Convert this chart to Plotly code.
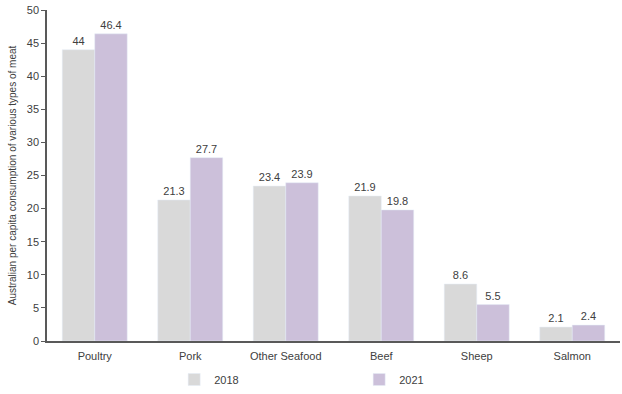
import plotly.graph_objects as go

categories = ["Poultry", "Pork", "Other Seafood", "Beef", "Sheep", "Salmon"]
values_2018 = [44, 21.3, 23.4, 21.9, 8.6, 2.1]
values_2021 = [46.4, 27.7, 23.9, 19.8, 5.5, 2.4]
y_ticks = [0, 5, 10, 15, 20, 25, 30, 35, 40, 45, 50]

FONT = "Liberation Sans Narrow, Arial Narrow, Liberation Sans, Arial, sans-serif"
TXT = "#404040"

fig = go.Figure()
fig.add_trace(go.Bar(name="2018", x=categories, y=values_2018, marker_color="#D9D9D9",
                     text=[f"{v:g}" for v in values_2018], textposition="outside",
                     textfont=dict(size=11, color=TXT, family=FONT), cliponaxis=False))
fig.add_trace(go.Bar(name="2021", x=categories, y=values_2021, marker_color="#CCC0DA",
                     text=[f"{v:g}" for v in values_2021], textposition="outside",
                     textfont=dict(size=11, color=TXT, family=FONT), cliponaxis=False))

fig.update_layout(
    width=622, height=394,
    margin=dict(l=47, r=2, t=10, b=53),
    plot_bgcolor="white", paper_bgcolor="white",
    barmode="group", bargap=0.32, bargroupgap=0,
    font=dict(family=FONT, size=11, color=TXT),
    showlegend=True,
    legend=dict(orientation="h", xref="container", yref="container",
                x=0.28, xanchor="left", y=0.0, yanchor="bottom",
                entrywidth=140, entrywidthmode="pixels", itemwidth=30,
                font=dict(size=11, color=TXT, family=FONT)),
)
fig.update_xaxes(showline=True, linecolor="#595959", linewidth=1.5,
                 ticks="outside", ticklen=4, tickcolor="rgba(0,0,0,0)",
                 tickfont=dict(size=11, color=TXT), showgrid=False)
fig.update_yaxes(range=[0, 50], tickvals=y_ticks, showline=True, linecolor="#595959",
                 linewidth=1.5, ticks="outside", ticklen=4, tickcolor="#595959",
                 showgrid=False, zeroline=False, tickfont=dict(size=11, color=TXT),
                 title=dict(text="Australian per capita consumption of various types of meat",
                            font=dict(size=10, color=TXT), standoff=8))

fig.write_html("out.html")
